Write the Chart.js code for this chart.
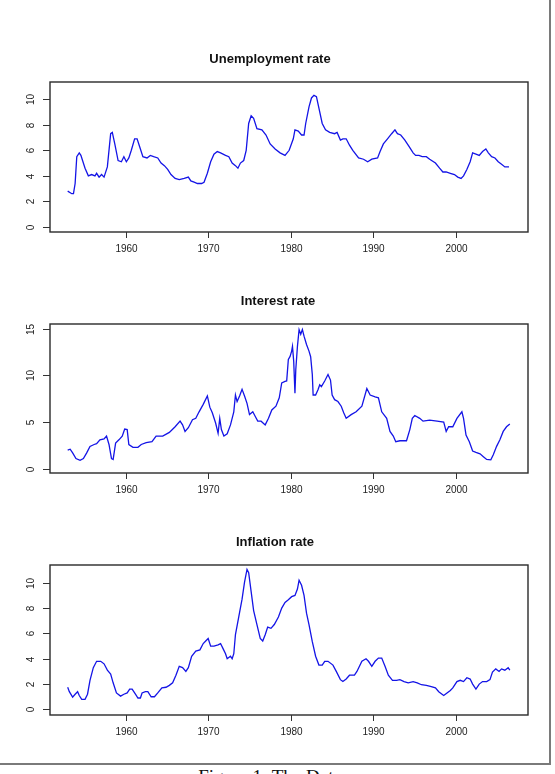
<!DOCTYPE html>
<html>
<head>
<meta charset="utf-8">
<script src="https://cdn.jsdelivr.net/npm/chart.js@4"></script>
<style>
  html, body { margin: 0; padding: 0; background: #fff; }
  body { width: 555px; height: 774px; position: relative; overflow: hidden; }
  .frame { position: absolute; left: -4px; top: -4px; width: 553px; height: 767px;
           border-right: 2px solid #7a7a7a; border-bottom: 2px solid #7a7a7a; }
  canvas.panel { position: absolute; left: 0; width: 555px; height: 230px; }
  .caption { position: absolute; left: 0; width: 540px; top: 767px; line-height: 19px;
             text-align: center; font-family: "Liberation Serif", "DejaVu Serif", serif;
             font-size: 19px; color: #111; }
</style>
</head>
<body>
<div class="frame"></div>
<canvas id="unemp" class="panel" width="555" height="230" style="top:40px"></canvas>
<canvas id="interest" class="panel" width="555" height="230" style="top:282px"></canvas>
<canvas id="inflation" class="panel" width="555" height="230" style="top:523px"></canvas>
<div class="caption">Figure 1: The Data</div>

<script>
// Werte (Quartalsdaten USA, 1953 - 2006)
const xTicks = [1960, 1970, 1980, 1990, 2000];

const unempYears = [
  1953.0, 1953.5, 1953.7, 1953.9, 1954.1, 1954.4, 1954.6, 1954.8, 1955.1, 1955.5,
  1955.9, 1956.3, 1956.5, 1956.8, 1957.1, 1957.4, 1957.8, 1958.2, 1958.4, 1958.7,
  1959.1, 1959.5, 1959.8, 1960.1, 1960.4, 1960.7, 1961.1, 1961.4, 1961.7, 1962.1,
  1962.6, 1963.0, 1963.4, 1963.9, 1964.3, 1964.7, 1965.1, 1965.5, 1966.0, 1966.5,
  1967.1, 1967.6, 1967.9, 1968.3, 1968.7, 1969.2, 1969.5, 1969.9, 1970.3, 1970.7,
  1971.1, 1971.5, 1972.1, 1972.5, 1972.9, 1973.3, 1973.6, 1973.9, 1974.3, 1974.6,
  1974.9, 1975.2, 1975.5, 1975.9, 1976.5, 1977.0, 1977.5, 1978.1, 1978.7, 1979.3,
  1979.8, 1980.3, 1980.5, 1980.9, 1981.3, 1981.6, 1981.8, 1982.2, 1982.5, 1982.8,
  1983.1, 1983.4, 1983.8, 1984.2, 1984.7, 1985.3, 1985.6, 1986.0, 1986.3, 1986.7,
  1987.1, 1987.5, 1988.2, 1988.8, 1989.3, 1989.8, 1990.5, 1990.8, 1991.2, 1991.7,
  1992.2, 1992.6, 1992.9, 1993.3, 1993.8, 1994.3, 1994.8, 1995.1, 1995.5, 1995.9,
  1996.4, 1996.8, 1997.5, 1998.0, 1998.4, 1998.8, 1999.3, 1999.8, 2000.2, 2000.6,
  2000.9, 2001.3, 2001.7, 2002.0, 2002.4, 2002.8, 2003.2, 2003.6, 2003.9, 2004.3,
  2004.7, 2005.1, 2005.5, 2005.9, 2006.4
];
const unempValues = [
  2.8, 2.6, 2.6, 3.4, 5.5, 5.8, 5.6, 5.2, 4.6, 4.0,
  4.1, 4.0, 4.2, 3.9, 4.1, 3.9, 4.7, 7.3, 7.4, 6.5,
  5.2, 5.1, 5.5, 5.1, 5.4, 6.0, 6.9, 6.9, 6.3, 5.5,
  5.4, 5.6, 5.5, 5.4, 5.0, 4.8, 4.5, 4.1, 3.8, 3.7,
  3.8, 3.9, 3.6, 3.5, 3.4, 3.4, 3.5, 4.2, 5.1, 5.7,
  5.9, 5.8, 5.6, 5.5, 5.0, 4.8, 4.6, 5.0, 5.2, 6.0,
  8.1, 8.7, 8.5, 7.7, 7.6, 7.2, 6.5, 6.1, 5.8, 5.6,
  6.0, 6.9, 7.6, 7.5, 7.2, 7.2, 8.1, 9.4, 10.1, 10.3,
  10.2, 9.3, 8.1, 7.6, 7.4, 7.3, 7.4, 6.8, 6.9, 6.9,
  6.4, 6.0, 5.4, 5.3, 5.1, 5.3, 5.4, 5.9, 6.5, 6.9,
  7.3, 7.6, 7.3, 7.2, 6.8, 6.3, 5.8, 5.6, 5.6, 5.5,
  5.5, 5.3, 5.0, 4.6, 4.3, 4.3, 4.2, 4.1, 3.9, 3.8,
  4.0, 4.5, 5.1, 5.8, 5.7, 5.6, 5.9, 6.1, 5.8, 5.5,
  5.4, 5.1, 4.9, 4.7, 4.7
];

const interestYears = [
  1953.0, 1953.3, 1953.6, 1954.0, 1954.5, 1954.9, 1955.3, 1955.7, 1956.2, 1956.5,
  1956.9, 1957.4, 1957.7, 1958.0, 1958.3, 1958.5, 1958.8, 1959.2, 1959.6, 1959.9,
  1960.2, 1960.4, 1960.9, 1961.5, 1961.9, 1962.5, 1963.2, 1963.7, 1964.5, 1965.3,
  1966.0, 1966.6, 1966.9, 1967.2, 1967.6, 1968.1, 1968.5, 1968.9, 1969.4, 1969.9,
  1970.2, 1970.5, 1970.9, 1971.2, 1971.4, 1971.6, 1971.9, 1972.3, 1972.7, 1973.1,
  1973.3, 1973.5, 1973.8, 1974.1, 1974.4, 1974.7, 1975.0, 1975.4, 1975.7, 1976.0,
  1976.4, 1976.9, 1977.3, 1977.7, 1978.2, 1978.6, 1978.9, 1979.3, 1979.5, 1979.7,
  1979.9, 1980.1, 1980.2, 1980.35, 1980.5, 1980.6, 1980.8, 1981.0, 1981.2, 1981.4,
  1981.6, 1981.9, 1982.2, 1982.4, 1982.6, 1982.7, 1983.0, 1983.3, 1983.5, 1983.7,
  1984.1, 1984.5, 1984.8, 1985.0, 1985.3, 1985.7, 1986.1, 1986.4, 1986.7, 1987.3,
  1987.9, 1988.6, 1989.2, 1989.6, 1990.2, 1990.6, 1991.0, 1991.6, 1992.0, 1992.4,
  1992.7, 1993.2, 1994.0, 1994.4, 1994.7, 1995.0, 1995.6, 1996.0, 1996.8, 1997.7,
  1998.5, 1998.8, 1999.1, 1999.6, 2000.1, 2000.7, 2000.9, 2001.2, 2001.6, 2002.0,
  2002.4, 2002.9, 2003.3, 2003.7, 2004.2, 2004.5, 2004.9, 2005.3, 2005.7, 2006.1,
  2006.5
];
const interestValues = [
  2.0, 2.1, 1.7, 1.1, 0.9, 1.1, 1.7, 2.4, 2.6, 2.7,
  3.1, 3.2, 3.5, 2.6, 1.1, 1.0, 2.75, 3.1, 3.5, 4.25,
  4.2, 2.6, 2.3, 2.3, 2.6, 2.8, 2.9, 3.5, 3.5, 3.9,
  4.5, 5.1, 4.7, 4.0, 4.4, 5.25, 5.4, 6.1, 6.9, 7.8,
  6.6, 6.0, 4.9, 3.8, 5.4, 4.2, 3.5, 3.75, 4.7, 6.1,
  7.9, 7.2, 7.8, 8.5, 7.8, 7.0, 5.8, 6.1, 5.6, 5.1,
  5.1, 4.7, 5.4, 6.3, 6.7, 7.6, 9.2, 9.35, 9.4, 11.7,
  12.0, 12.6, 13.1, 11.5, 8.1, 10.6, 13.1, 14.9, 14.4, 14.9,
  14.2, 13.3, 12.6, 12.0, 10.1, 7.9, 7.9, 8.5, 9.0, 8.8,
  9.4, 10.1, 9.5, 7.9, 7.4, 7.2, 6.7, 6.0, 5.4, 5.8,
  6.1, 6.7, 8.6, 7.9, 7.7, 7.6, 6.1, 5.4, 4.0, 3.5,
  2.9, 3.0, 3.0, 4.2, 5.4, 5.7, 5.4, 5.1, 5.2, 5.1,
  5.0, 4.0, 4.5, 4.5, 5.4, 6.1, 5.4, 3.6, 2.9, 1.9,
  1.75, 1.6, 1.3, 1.0, 0.96, 1.5, 2.4, 3.1, 4.0, 4.5,
  4.8
];

const inflationYears = [
  1953.0, 1953.2, 1953.6, 1953.9, 1954.2, 1954.4, 1954.7, 1955.1, 1955.4, 1955.7,
  1956.1, 1956.5, 1957.0, 1957.4, 1957.8, 1958.2, 1958.5, 1958.9, 1959.4, 1959.8,
  1960.2, 1960.5, 1960.8, 1961.2, 1961.5, 1961.8, 1962.0, 1962.4, 1962.7, 1963.1,
  1963.5, 1963.9, 1964.4, 1964.9, 1965.3, 1965.7, 1966.1, 1966.5, 1966.9, 1967.3,
  1967.6, 1968.0, 1968.5, 1969.0, 1969.4, 1969.7, 1970.0, 1970.3, 1970.7, 1971.2,
  1971.5, 1971.8, 1972.1, 1972.3, 1972.7, 1972.9, 1973.1, 1973.3, 1973.7, 1974.1,
  1974.4, 1974.7, 1974.9, 1975.2, 1975.5, 1975.9, 1976.3, 1976.6, 1976.9, 1977.2,
  1977.6, 1978.0, 1978.5, 1978.9, 1979.3, 1979.7, 1980.1, 1980.5, 1980.8, 1981.0,
  1981.3, 1981.6, 1981.9, 1982.2, 1982.6, 1983.0, 1983.4, 1983.8, 1984.1, 1984.5,
  1985.1, 1985.5, 1986.0, 1986.3, 1986.7, 1987.1, 1987.7, 1988.0, 1988.6, 1989.1,
  1989.4, 1989.8, 1990.2, 1990.6, 1991.0, 1991.4, 1991.8, 1992.3, 1992.8, 1993.2,
  1993.7, 1994.2, 1994.8, 1995.3, 1995.8, 1996.4, 1997.0, 1997.5, 1997.9, 1998.3,
  1998.5, 1998.9, 1999.3, 1999.6, 2000.1, 2000.5, 2000.9, 2001.3, 2001.7, 2002.0,
  2002.4, 2002.8, 2003.2, 2003.7, 2004.1, 2004.4, 2004.8, 2005.2, 2005.5, 2005.9,
  2006.3, 2006.5
];
const inflationValues = [
  1.75, 1.4, 0.97, 1.2, 1.4, 1.1, 0.8, 0.8, 1.2, 2.3,
  3.3, 3.8, 3.8, 3.6, 3.1, 2.8, 2.1, 1.3, 1.05, 1.2,
  1.3, 1.6, 1.6, 1.2, 0.9, 0.9, 1.3, 1.4, 1.4, 1.0,
  1.0, 1.3, 1.7, 1.75, 1.9, 2.1, 2.7, 3.4, 3.3, 3.0,
  3.3, 4.2, 4.6, 4.7, 5.2, 5.4, 5.6, 5.0, 5.0, 5.1,
  5.2, 4.8, 4.4, 4.0, 4.2, 4.0, 4.4, 5.9, 7.3, 8.7,
  10.05, 11.05, 10.8, 9.3, 7.8, 6.7, 5.6, 5.4, 5.9, 6.5,
  6.4, 6.7, 7.3, 8.0, 8.45, 8.65, 8.9, 9.0, 9.5, 10.2,
  9.8, 9.0, 7.6, 6.7, 5.35, 4.2, 3.5, 3.5, 3.8, 3.8,
  3.5, 3.0, 2.35, 2.2, 2.4, 2.7, 2.7, 3.0, 3.8, 4.0,
  3.8, 3.4, 3.8, 4.05, 4.05, 3.4, 2.7, 2.3, 2.3, 2.35,
  2.2, 2.1, 2.2, 2.1, 1.95, 1.9, 1.8, 1.7, 1.4, 1.2,
  1.1, 1.3, 1.5, 1.7, 2.2, 2.3, 2.2, 2.5, 2.4, 2.0,
  1.6, 2.0, 2.2, 2.2, 2.35, 2.95, 3.2, 3.0, 3.2, 3.1,
  3.3, 3.1
];

// R-artiger Rahmen, Achsen und Titel, ueber die Chart.js-Skalen positioniert
const rStyle = {
  id: 'rStyle',
  afterDatasetsDraw(chart, args, opts) {
    const { ctx, chartArea: a, scales: { x, y } } = chart;
    ctx.save();
    ctx.strokeStyle = '#2a2a2a';
    ctx.lineWidth = 1.4;
    ctx.strokeRect(a.left, a.top, a.right - a.left, a.bottom - a.top);

    ctx.lineWidth = 1;
    ctx.strokeStyle = '#333';
    ctx.fillStyle = '#222';
    ctx.font = '10px "Liberation Sans", Arial, sans-serif';
    ctx.textAlign = 'center';
    ctx.textBaseline = 'middle';
    xTicks.forEach((v) => {
      const px = Math.round(x.getPixelForValue(v)) + 0.5;
      ctx.beginPath();
      ctx.moveTo(px, a.bottom);
      ctx.lineTo(px, a.bottom + 6);
      ctx.stroke();
      ctx.fillText(String(v), px, a.bottom + 17.5);
    });
    opts.yTicks.forEach((v) => {
      const py = Math.round(y.getPixelForValue(v)) + 0.5;
      ctx.beginPath();
      ctx.moveTo(a.left - 7, py);
      ctx.lineTo(a.left, py);
      ctx.stroke();
      ctx.save();
      ctx.translate(a.left - 19, py);
      ctx.rotate(-Math.PI / 2);
      ctx.fillText(String(v), 0, 0);
      ctx.restore();
    });

    ctx.font = 'bold 13px "Liberation Sans", Arial, sans-serif';
    ctx.fillStyle = '#111';
    ctx.textBaseline = 'alphabetic';
    ctx.fillText(opts.title, opts.titleX, a.top - 19);
    ctx.restore();
  },
};

function makePanel(id, years, values, cfg) {
  const points = years.map((yr, i) => ({ x: yr, y: values[i] }));
  return new Chart(document.getElementById(id), {
    type: 'line',
    data: {
      datasets: [{
        data: points,
        borderColor: '#1414e6',
        borderWidth: 1.3,
        pointRadius: 0,
        tension: 0,
        fill: false,
      }],
    },
    options: {
      responsive: false,
      animation: false,
      events: [],
      layout: { padding: { left: 50, right: 27, top: 42, bottom: cfg.bottom } },
      scales: {
        x: { type: 'linear', min: 1950.86, max: 2008.7, display: false },
        y: { type: 'linear', min: cfg.yMin, max: cfg.yMax, display: false },
      },
      plugins: {
        legend: { display: false },
        tooltip: { enabled: false },
        rStyle: { title: cfg.title, titleX: cfg.titleX, yTicks: cfg.yTicks },
      },
    },
    plugins: [rStyle],
  });
}

makePanel('unemp', unempYears, unempValues, {
  title: 'Unemployment rate', titleX: 270, yMin: -0.4, yMax: 11.35,
  yTicks: [0, 2, 4, 6, 8, 10], bottom: 38,
});
makePanel('interest', interestYears, interestValues, {
  title: 'Interest rate', titleX: 278, yMin: -0.45, yMax: 15.5,
  yTicks: [0, 5, 10, 15], bottom: 39,
});
makePanel('inflation', inflationYears, inflationValues, {
  title: 'Inflation rate', titleX: 275, yMin: -0.44, yMax: 11.4,
  yTicks: [0, 2, 4, 6, 8, 10], bottom: 38,
});
</script>
</body>
</html>
